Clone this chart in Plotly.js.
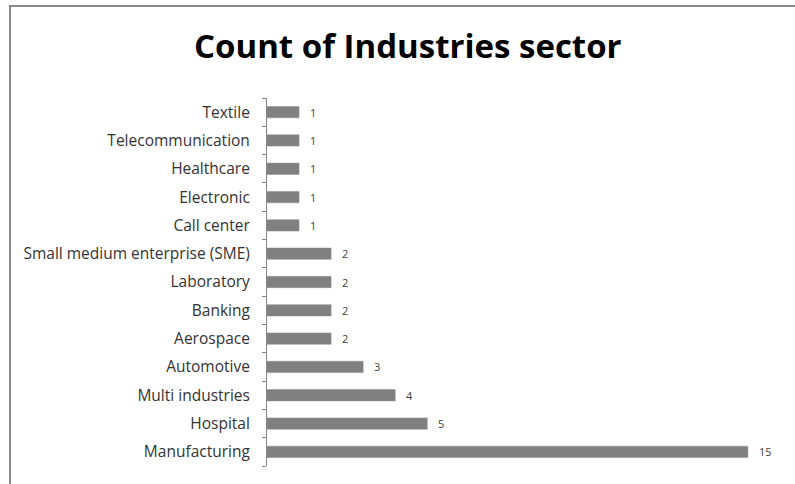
<!DOCTYPE html>
<html>
<head>
<meta charset="utf-8">
<script src="https://cdn.plot.ly/plotly-3.0.1.min.js"></script>
<style>html,body{margin:0;padding:0;background:#fff;}#chart{width:795px;height:484px;}</style>
</head>
<body>
<div id="chart"></div>
<script>
const categories = ["Manufacturing","Hospital","Multi industries","Automotive","Aerospace","Banking","Laboratory","Small medium enterprise (SME)","Call center","Electronic","Healthcare","Telecommunication","Textile"];
const counts = [15,5,4,3,2,2,2,2,1,1,1,1,1];
const chartTitle = "Count of Industries sector";

const trace = {
  type: "bar",
  orientation: "h",
  x: counts,
  y: categories,
  width: 0.4,
  marker: {color: "#808080", line: {color: "#8c8c8c", width: 0.5}},
  hoverinfo: "none"
};

const annotations = categories.map((c, i) => ({
  x: counts[i], y: c, xref: "x", yref: "y",
  text: String(counts[i]), showarrow: false,
  xanchor: "left", xshift: 9,
  font: {family: "Open Sans, sans-serif", size: 11, color: "#404040"}
}));

const border = "#888888";
const layout = {
  width: 795, height: 484,
  margin: {l: 267, r: 15, t: 98, b: 18, pad: 0},
  paper_bgcolor: "#ffffff", plot_bgcolor: "#ffffff",
  showlegend: false,
  title: {
    text: "<b>" + chartTitle + "</b>",
    font: {family: "Open Sans, sans-serif", size: 33, color: "#000000"},
    x: 0.513, xref: "container", xanchor: "center",
    y: 0.904, yref: "container", yanchor: "middle"
  },
  xaxis: {range: [0, 16], visible: false, showgrid: false, zeroline: false, fixedrange: true},
  yaxis: {
    type: "category",
    showline: true, linecolor: "#868686", linewidth: 1,
    ticks: "outside", tickson: "boundaries", ticklen: 4, tickcolor: "#868686", tickwidth: 1,
    ticklabelstandoff: 13,
    tickfont: {family: "Open Sans, sans-serif", size: 15.5, color: "#333333"},
    showgrid: false, zeroline: false, automargin: false, fixedrange: true
  },
  annotations: annotations,
  shapes: [
    {type: "line", xref: "paper", yref: "paper", x0: -0.501, x1: -0.501, y0: 1.25, y1: -0.06, line: {color: border, width: 2}},
    {type: "line", xref: "paper", yref: "paper", x0: -0.503, x1: 1.04, y0: 1.25, y1: 1.25, line: {color: border, width: 2}}
  ]
};

Plotly.newPlot("chart", [trace], layout, {displayModeBar: false, staticPlot: true});
</script>
</body>
</html>
